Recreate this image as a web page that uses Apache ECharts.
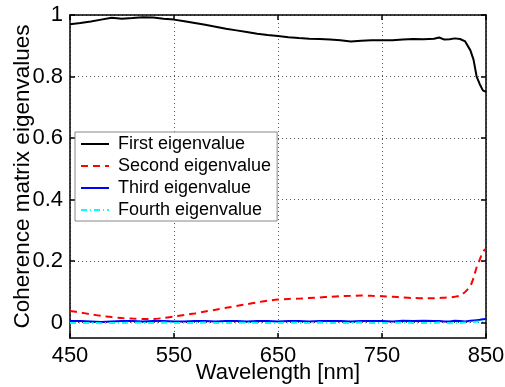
<!DOCTYPE html>
<html><head><meta charset="utf-8">
<script src="https://cdn.jsdelivr.net/npm/echarts@6/dist/echarts.min.js"></script>
<style>html,body{margin:0;padding:0;background:#fff}#c{width:505px;height:387px}</style>
</head><body><div id="c"></div>
<script>
const wavelength = [450,460,470,480,490,500,510,520,530,540,550,560,570,580,590,600,610,620,630,640,650,660,670,680,690,700,710,720,730,740,750,760,770,780,790,800,805,810,815,820,825,830,835,838,841,844,847,850];
const firstEig = [0.970,0.974,0.979,0.985,0.991,0.988,0.990,0.993,0.992,0.988,0.985,0.980,0.974,0.968,0.962,0.955,0.950,0.945,0.939,0.935,0.932,0.928,0.925,0.923,0.922,0.920,0.918,0.914,0.916,0.918,0.918,0.918,0.920,0.922,0.921,0.923,0.927,0.920,0.921,0.924,0.922,0.914,0.885,0.855,0.800,0.775,0.755,0.750];
const secondEig = [0.038,0.033,0.027,0.022,0.018,0.015,0.013,0.012,0.012,0.015,0.020,0.025,0.030,0.036,0.042,0.048,0.054,0.060,0.066,0.071,0.075,0.077,0.078,0.080,0.082,0.084,0.086,0.087,0.088,0.087,0.086,0.084,0.082,0.080,0.079,0.079,0.080,0.081,0.082,0.084,0.088,0.100,0.120,0.145,0.180,0.205,0.230,0.240];
const thirdEig = [0.005,0.005,0.004,0.002,0.004,0.005,0.005,0.004,0.005,0.005,0.004,0.004,0.005,0.005,0.004,0.005,0.005,0.004,0.005,0.005,0.004,0.005,0.005,0.004,0.005,0.005,0.005,0.004,0.005,0.005,0.005,0.004,0.006,0.005,0.006,0.005,0.005,0.004,0.004,0.006,0.005,0.004,0.006,0.007,0.008,0.009,0.011,0.012];
const fourthEig = [-0.001,-0.001,-0.001,-0.002,-0.001,-0.001,0.000,-0.001,-0.001,0.000,-0.001,-0.001,-0.001,0.000,-0.001,-0.001,-0.001,0.000,-0.001,-0.001,-0.001,0.000,-0.001,-0.001,0.000,-0.001,-0.001,-0.001,0.000,-0.001,-0.001,-0.001,0.000,-0.001,-0.001,-0.001,0.000,-0.001,-0.002,-0.001,-0.001,0.000,0.001,0.002,0.003,0.004,0.005,0.006];
const seriesNames = ['First eigenvalue','Second eigenvalue','Third eigenvalue','Fourth eigenvalue'];
const xTicks = [450,550,650,750,850];
const yTicks = [0,0.2,0.4,0.6,0.8,1];

const pairs = arr => wavelength.map((w,i)=>[w,arr[i]]);
const FONT = 'Liberation Sans, Arial, Helvetica, sans-serif';
const chart = echarts.init(document.getElementById('c'), null, {renderer:'canvas'});
const axisCommon = {
  axisLine:{show:true,onZero:false,lineStyle:{color:'#000',width:1.5}},
  axisTick:{show:true,inside:true,length:5,lineStyle:{color:'#000',width:1.5}},
};
chart.setOption({
  animation:false,
  backgroundColor:'#fff',
  grid:{left:70,right:19,top:15,bottom:49,containLabel:false,outerBoundsMode:'none'},
  legend:{
    orient:'vertical',left:75,top:132,
    data:seriesNames,
    backgroundColor:'#fff',borderColor:'#888',borderWidth:1,borderRadius:0,
    padding:[3,6,2,5],itemGap:4,itemWidth:28,itemHeight:18,
    itemStyle:{opacity:0},
    textStyle:{fontFamily:FONT,fontSize:18,color:'#000',padding:[0,0,0,4]}
  },
  xAxis:[{
    type:'value',min:450,max:850,interval:100,position:'bottom',
    name:'Wavelength [nm]',nameLocation:'middle',nameGap:24,nameMoveOverlap:false,
    nameTextStyle:{fontFamily:FONT,fontSize:22,color:'#000'},
    ...axisCommon,
    axisLabel:{fontFamily:FONT,fontSize:22,color:'#000',margin:7,formatter:v=>xTicks.includes(v)?String(v):''},
    splitLine:{show:true,lineStyle:{color:'#555',type:[1,3],width:1}}
  },{
    type:'value',min:450,max:850,interval:100,position:'top',
    ...axisCommon,axisLabel:{show:false},splitLine:{show:false}
  }],
  yAxis:[{
    type:'value',min:-0.05,max:1,
    name:'Coherence matrix eigenvalues',nameLocation:'middle',nameGap:36,nameMoveOverlap:false,
    nameTextStyle:{fontFamily:FONT,fontSize:22.5,color:'#000'},
    ...axisCommon,
    axisLabel:{fontFamily:FONT,fontSize:22,color:'#000',margin:7,
      customValues:yTicks,formatter:v=>String(+(+v).toFixed(1))},
    axisTick:{...axisCommon.axisTick,customValues:yTicks},
    splitLine:{show:true,lineStyle:{color:'#555',type:[1,3],width:1}}
  },{
    type:'value',min:-0.05,max:1,position:'right',
    ...axisCommon,
    axisTick:{...axisCommon.axisTick,customValues:yTicks},
    axisLabel:{show:false},splitLine:{show:false}
  }],
  series:[
    {name:seriesNames[0],type:'line',data:pairs(firstEig),showSymbol:false,symbol:'none',
      lineStyle:{color:'#000',width:2},itemStyle:{color:'#000'}},
    {name:seriesNames[1],type:'line',data:pairs(secondEig),showSymbol:false,symbol:'none',smooth:0.3,
      lineStyle:{color:'#ff0000',width:2,type:[7,5]},itemStyle:{color:'#ff0000'}},
    {name:seriesNames[2],type:'line',data:pairs(thirdEig),showSymbol:false,symbol:'none',
      lineStyle:{color:'#0000ff',width:2},itemStyle:{color:'#0000ff'}},
    {name:seriesNames[3],type:'line',data:pairs(fourthEig),showSymbol:false,symbol:'none',
      lineStyle:{color:'#00ffff',width:2,type:[6,3,1,3]},itemStyle:{color:'#00ffff'}}
  ]
});
</script></body></html>
